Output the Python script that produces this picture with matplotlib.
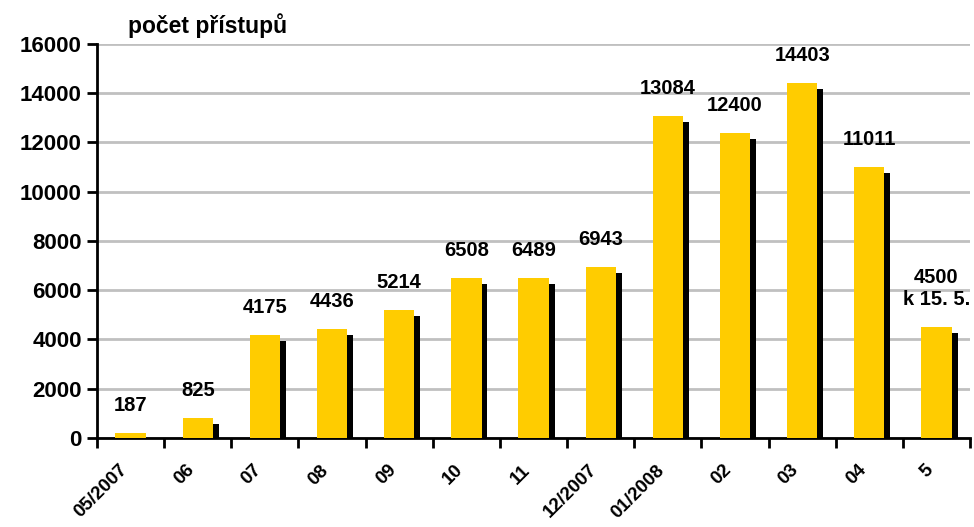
import numpy as np
import matplotlib.pyplot as plt
from matplotlib.ticker import FixedLocator
from matplotlib.transforms import ScaledTranslation

plt.rcParams['font.family'] = ['Liberation Sans', 'DejaVu Sans']
plt.rcParams['font.weight'] = 'bold'

months = ["05/2007", "06", "07", "08", "09", "10", "11", "12/2007",
          "01/2008", "02", "03", "04", "5"]
counts = [187, 825, 4175, 4436, 5214, 6508, 6489, 6943,
          13084, 12400, 14403, 11011, 4500]
labels = [str(v) for v in counts]
labels[-1] = "4500\nk 15. 5."

YELLOW = "#FFCC00"
SHADOW_DX = 0.089
SHADOW_DY = 245


def main():
    fig = plt.figure(figsize=(9.74, 5.27), dpi=100)
    ax = fig.add_axes([0.0996, 0.169, 0.8964, 0.7475])

    x = np.arange(len(months))
    vals = np.array(counts)
    w = 0.45

    # black "3D" shadow behind each bar
    ax.bar(x + SHADOW_DX, np.clip(vals - SHADOW_DY, 0, None), width=w,
           color="black", zorder=2)
    ax.bar(x, vals, width=w, color=YELLOW, zorder=3)

    for xi, v, lab in zip(x, vals, labels):
        ax.annotate(lab, (xi, v), xytext=(0, 13), textcoords="offset points",
                    ha="center", va="bottom", fontsize=14.5, fontweight="bold",
                    linespacing=1.2)

    ax.set_xlim(-0.5, len(months) - 0.5)
    ax.set_ylim(0, 16000)
    ax.set_yticks(np.arange(0, 16001, 2000))
    ax.yaxis.grid(True, color="#C0C0C0", linewidth=2)
    ax.set_axisbelow(True)

    ax.set_xticks(x)
    ax.set_xticklabels(months, rotation=45, ha="right", rotation_mode="anchor")
    ax.xaxis.set_minor_locator(FixedLocator(np.arange(-0.5, len(months), 1.0)))
    ax.tick_params(axis="x", which="major", length=0, pad=17, labelsize=13.5)
    ax.tick_params(axis="x", which="minor", length=7, width=2, direction="out")
    ax.tick_params(axis="y", length=7, width=2, direction="out", labelsize=16, pad=4)
    shift = ScaledTranslation(-12 / 100, 0, fig.dpi_scale_trans)
    for lab in ax.get_xticklabels():
        lab.set_fontweight("bold")
        lab.set_transform(lab.get_transform() + shift)
    for lab in ax.get_yticklabels():
        lab.set_fontweight("bold")

    for s in ["top", "right"]:
        ax.spines[s].set_visible(False)
    ax.spines["left"].set_linewidth(2)
    ax.spines["bottom"].set_linewidth(2)

    fig.text(0.131, 0.952, "počet přístupů", fontsize=16.5, fontweight="bold",
             ha="left", va="center")

    fig.savefig("out.png", dpi=100)


if __name__ == '__main__':
    main()
